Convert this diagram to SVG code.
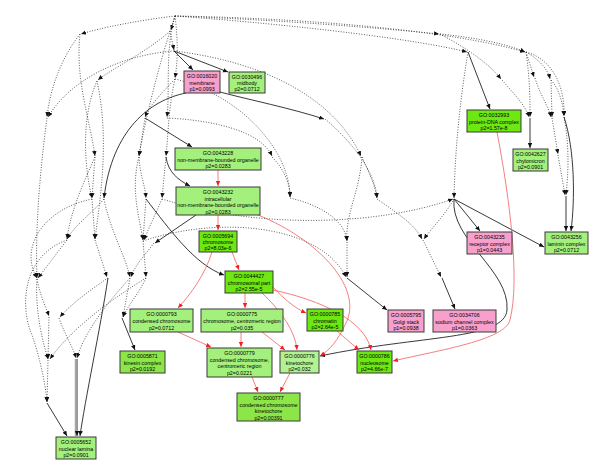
<svg xmlns="http://www.w3.org/2000/svg" width="600" height="471" viewBox="0 0 600 471">
<defs>
<marker id="ak" markerUnits="userSpaceOnUse" markerWidth="6" markerHeight="5" refX="5" refY="2.2" orient="auto"><path d="M0,0 L5,2.2 L0,4.4 z" fill="#111"/></marker>
<marker id="ar" markerUnits="userSpaceOnUse" markerWidth="6" markerHeight="5" refX="5" refY="2.2" orient="auto"><path d="M0,0 L5,2.2 L0,4.4 z" fill="#ee2222"/></marker>
<style>
.d{fill:none;stroke:#333;stroke-width:0.8;stroke-dasharray:1,1.6;marker-end:url(#ak)}
.s{fill:none;stroke:#222;stroke-width:0.9;marker-end:url(#ak)}
.r{fill:none;stroke:#f06060;stroke-width:0.8;marker-end:url(#ar)}
.g{fill:none;stroke:#888;stroke-width:0.9}
rect{stroke:#3a3a3a;stroke-width:1}
.pk{fill:#f7a0cc}
.lg{fill:#a4f07c}
.bg{fill:#6de810}
.mg{fill:#8ce648}
.pg{fill:#b2f293}
text{font-family:"Liberation Sans",Arial,sans-serif;font-size:5.3px;text-anchor:middle;fill:#000}
</style>
</defs>
<rect x="0" y="0" width="600" height="471" fill="#fff" style="stroke:none"/>
<g id="connectors">
<path class="d" d="M175,16 C140,20 100,28 81,34"/>
<path class="d" d="M175,16 L171,30"/>
<path class="d" d="M175,16 C280,20 380,28 439,34"/>
<path class="d" d="M175,16 C300,18 450,30 525,52"/>
<path class="d" d="M175,16 C300,25 420,40 467,52"/>
<path class="d" d="M175,16 C178,40 178,60 175,78"/>
<path class="d" d="M175,16 C165,50 170,90 167,117"/>
<path class="d" d="M175,16 C160,60 145,120 139,156"/>
<path class="d" d="M170,31 C150,50 110,70 98,80"/>
<path class="d" d="M170,31 L174,50"/>
<path class="d" d="M174,51 C250,60 330,90 361,156"/>
<path class="d" d="M174,51 C120,55 70,80 48,117"/>
<path class="d" d="M325,119 C350,140 375,170 377,198"/>
<path class="d" d="M80,34 C60,60 50,90 47,117"/>
<path class="d" d="M80,34 C75,80 90,120 95,156"/>
<path class="d" d="M97,81 C80,120 85,170 92,198"/>
<path class="d" d="M97,81 C110,140 100,200 95,239"/>
<path class="d" d="M175,79 C160,95 150,105 145,117"/>
<path class="d" d="M175,79 C168,110 168,140 166,156"/>
<path class="d" d="M175,79 C240,95 290,150 290,197"/>
<path class="d" d="M167,118 C210,120 260,130 272,156"/>
<path class="d" d="M145,118 L139,156"/>
<path class="d" d="M47,118 C40,170 35,230 37,278"/>
<path class="d" d="M95,157 L92,198"/>
<path class="d" d="M95,157 C80,190 70,215 67,239"/>
<path class="d" d="M139,157 C140,175 145,185 146,198"/>
<path class="d" d="M139,157 C130,190 140,220 143,240"/>
<path class="d" d="M166,157 L162,198"/>
<path class="d" d="M92,199 L95,239"/>
<path class="d" d="M92,199 C40,210 20,250 37,278"/>
<path class="d" d="M104,199 C90,215 75,225 67,239"/>
<path class="d" d="M104,199 C110,230 125,255 130,277"/>
<path class="d" d="M146,199 L143,240"/>
<path class="d" d="M162,199 C155,215 148,230 144,240"/>
<path class="d" d="M162,199 C260,230 380,225 453,199"/>
<path class="d" d="M143,241 C220,215 320,225 346,277"/>
<path class="d" d="M290,198 C320,205 345,220 347,241"/>
<path class="d" d="M362,157 C360,190 345,215 347,241"/>
<path class="d" d="M272,157 C285,170 290,185 290,197"/>
<path class="d" d="M362,157 C370,175 375,185 377,198"/>
<path class="d" d="M377,199 C400,215 415,225 422,239"/>
<path class="d" d="M454,199 C445,215 430,230 424,239"/>
<path class="d" d="M468,52 C460,100 455,150 454,198"/>
<path class="d" d="M347,242 L347,277"/>
<path class="d" d="M423,240 L441,277"/>
<path class="d" d="M67,240 L38,278"/>
<path class="d" d="M95,240 L107,277"/>
<path class="d" d="M143,241 L146,277"/>
<path class="d" d="M154,243 C145,255 135,265 131,277"/>
<path class="d" d="M37,279 C40,295 45,305 49,316"/>
<path class="d" d="M108,278 C90,290 70,305 60,317"/>
<path class="d" d="M130,278 L123,317"/>
<path class="d" d="M146,278 C138,295 128,305 123,317"/>
<path class="d" d="M37,279 C35,310 42,340 48,359"/>
<path class="d" d="M49,317 L48,359"/>
<path class="d" d="M59,318 C65,335 72,345 76,358"/>
<path class="d" d="M146,278 C110,300 70,330 50,359"/>
<path class="d" d="M130,278 C110,300 85,330 77,358"/>
<path class="d" d="M48,360 L47,402"/>
<path class="d" d="M67,240 C25,255 20,300 30,330 C38,350 45,380 47,402"/>
<path class="d" d="M440,34 C470,50 490,65 501,79"/>
<path class="d" d="M440,34 C480,38 510,45 525,52"/>
<path class="d" d="M526,52 C530,80 530,100 530,117"/>
<path class="d" d="M526,52 L534,77"/>
<path class="d" d="M526,52 C540,60 548,70 550,79"/>
<path class="d" d="M526,52 C555,60 565,90 564,116"/>
<path class="d" d="M502,80 C515,95 525,105 529,117"/>
<path class="d" d="M535,78 C540,95 548,105 551,117"/>
<path class="d" d="M551,80 L552,117"/>
<path class="d" d="M551,80 C560,90 563,105 564,116"/>
<path class="d" d="M552,118 L558,154"/>
<path class="d" d="M558,155 L565,195"/>
<path class="d" d="M564,117 C570,150 568,175 566,195"/>
<path class="s" d="M174,51 L193,70"/>
<path class="s" d="M174,51 L228,72"/>
<path class="s" d="M220,92 C250,100 290,108 324,119"/>
<path class="s" d="M186,93 C150,100 112,130 104,198"/>
<path class="s" d="M145,118 L192,147"/>
<path class="s" d="M166,157 C168,172 178,180 190,186"/>
<path class="s" d="M146,199 C170,230 195,265 224,275"/>
<path class="s" d="M196,215 L155,243"/>
<path class="s" d="M468,52 L490,109"/>
<path class="s" d="M530,118 L530,148"/>
<path class="s" d="M564,117 C575,150 575,200 571,231"/>
<path class="s" d="M566,196 L566,231"/>
<path class="s" d="M454,199 L480,231"/>
<path class="s" d="M454,199 L544,247"/>
<path class="s" d="M454,199 C450,240 510,270 507,310 C505,340 420,335 320,356"/>
<path class="s" d="M347,278 L387,310"/>
<path class="s" d="M442,278 L455,309"/>
<path class="s" d="M122,318 L135,350"/>
<path class="s" d="M47,403 L67,436"/>
<path class="g" d="M75.3,359 L75.3,436"/>
<path class="s" d="M77,359 L77,436"/>
<path class="s" d="M108,278 C100,330 85,400 80,436"/>
<path class="r" d="M218,170 L218,186"/>
<path class="r" d="M218,215 L218,230"/>
<path class="r" d="M258,215 C320,240 365,290 345,325 C338,340 330,350 320,356"/>
<path class="r" d="M232,252 L239,270"/>
<path class="r" d="M212,252 C205,275 190,295 178,308"/>
<path class="r" d="M245,293 L245,308"/>
<path class="r" d="M273,287 C285,300 295,308 306,313"/>
<path class="r" d="M262,293 C280,310 295,330 297,350"/>
<path class="r" d="M273,290 C320,300 365,320 371,350"/>
<path class="r" d="M241,332 L241,347"/>
<path class="r" d="M262,332 L285,350"/>
<path class="r" d="M178,332 L211,347"/>
<path class="r" d="M252,377 L258,392"/>
<path class="r" d="M290,373 L280,392"/>
<path class="r" d="M337,331 L359,350"/>
<path class="r" d="M497,132 C510,200 520,280 510,320 C505,340 440,350 393,361"/>
</g>
<g id="n0016020"><rect class="pk" x="184" y="71" width="36" height="22"/><text x="202" y="78">GO:0016020</text><text x="202" y="84.5">membrane</text><text x="202" y="91">p1=0.0993</text></g>
<g id="n0030496"><rect class="lg" x="229" y="72" width="36" height="21"/><text x="247" y="79">GO:0030496</text><text x="247" y="85">midbody</text><text x="247" y="91">p2=0.0712</text></g>
<g id="n0043228"><rect class="lg" x="175" y="148" width="86" height="22"/><text x="218" y="155">GO:0043228</text><text x="218" y="161.5">non-membrane-bounded organelle</text><text x="218" y="168">p2=0.0283</text></g>
<g id="n0043232"><rect class="lg" x="176" y="187" width="84" height="28"/><text x="218" y="194">GO:0043232</text><text x="218" y="200.5">intracellular</text><text x="218" y="207">non-membrane-bounded organelle</text><text x="218" y="213.5">p2=0.0283</text></g>
<g id="n0005694"><rect class="bg" x="199" y="231" width="38" height="21"/><text x="218" y="238">GO:0005694</text><text x="218" y="244">chromosome</text><text x="218" y="250">p2=8.03e-6</text></g>
<g id="n0044427"><rect class="bg" x="225" y="271" width="48" height="22"/><text x="249" y="278">GO:0044427</text><text x="249" y="284.5">chromosomal part</text><text x="249" y="291">p2=2.55e-5</text></g>
<g id="n0000793"><rect class="lg" x="130" y="309" width="63" height="23"/><text x="161.5" y="316">GO:0000793</text><text x="161.5" y="322.5">condensed chromosome</text><text x="161.5" y="329.5">p2=0.0712</text></g>
<g id="n0000775"><rect class="lg" x="201" y="309" width="82" height="23"/><text x="242" y="316">GO:0000775</text><text x="242" y="322.5">chromosome, centromeric region</text><text x="242" y="329.5">p2=0.035</text></g>
<g id="n0000785"><rect class="bg" x="307" y="309" width="36" height="22"/><text x="325" y="316">GO:0000785</text><text x="325" y="322.5">chromatin</text><text x="325" y="329">p2=2.64e-5</text></g>
<g id="n0000779"><rect class="lg" x="207" y="348" width="65" height="29"/><text x="239.5" y="355">GO:0000779</text><text x="239.5" y="361.5">condensed chromosome,</text><text x="239.5" y="368">centromeric region</text><text x="239.5" y="374.5">p2=0.0221</text></g>
<g id="n0000776"><rect class="pg" x="280" y="351" width="39" height="22"/><text x="299.5" y="358">GO:0000776</text><text x="299.5" y="364.5">kinetochore</text><text x="299.5" y="371">p2=0.032</text></g>
<g id="n0000786"><rect class="bg" x="357" y="351" width="35" height="22"/><text x="374.5" y="358">GO:0000786</text><text x="374.5" y="364.5">nucleosome</text><text x="374.5" y="371">p2=4.66e-7</text></g>
<g id="n0000777"><rect class="mg" x="237" y="393" width="63" height="28"/><text x="268.5" y="400">GO:0000777</text><text x="268.5" y="406.5">condensed chromosome</text><text x="268.5" y="413">kinetochore</text><text x="268.5" y="419.5">p2=0.00391</text></g>
<g id="n0005871"><rect class="mg" x="120" y="351" width="45" height="22"/><text x="142.5" y="358">GO:0005871</text><text x="142.5" y="364.5">kinesin complex</text><text x="142.5" y="371">p2=0.0192</text></g>
<g id="n0005652"><rect class="lg" x="56" y="437" width="40" height="22"/><text x="76" y="444">GO:0005652</text><text x="76" y="450.5">nuclear lamina</text><text x="76" y="457">p2=0.0901</text></g>
<g id="n0005795"><rect class="pk" x="388" y="310" width="36" height="22"/><text x="406" y="317">GO:0005795</text><text x="406" y="323.5">Golgi stack</text><text x="406" y="330">p1=0.0938</text></g>
<g id="n0034706"><rect class="pk" x="433" y="310" width="63" height="22"/><text x="464.5" y="317">GO:0034706</text><text x="464.5" y="323.5">sodium channel complex</text><text x="464.5" y="330">p1=0.0363</text></g>
<g id="n0032993"><rect class="bg" x="467" y="110" width="54" height="22"/><text x="494" y="117">GO:0032993</text><text x="494" y="123.5">protein-DNA complex</text><text x="494" y="130">p2=1.57e-8</text></g>
<g id="n0042627"><rect class="lg" x="513" y="149" width="35" height="22"/><text x="530.5" y="156">GO:0042627</text><text x="530.5" y="162.5">chylomicron</text><text x="530.5" y="169">p2=0.0901</text></g>
<g id="n0043235"><rect class="pk" x="467" y="232" width="45" height="22"/><text x="489.5" y="239">GO:0043235</text><text x="489.5" y="245.5">receptor complex</text><text x="489.5" y="252">p1=0.0443</text></g>
<g id="n0043256"><rect class="lg" x="545" y="232" width="43" height="22"/><text x="566.5" y="239">GO:0043256</text><text x="566.5" y="245.5">laminin complex</text><text x="566.5" y="252">p2=0.0712</text></g>
</svg>
